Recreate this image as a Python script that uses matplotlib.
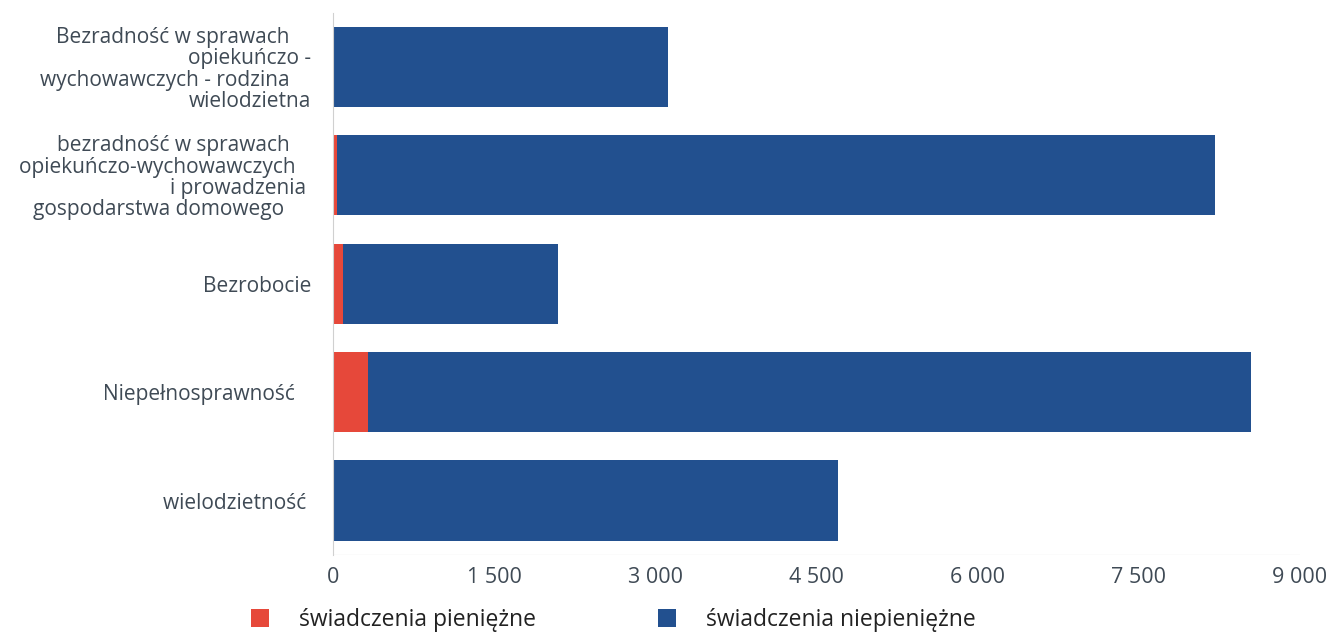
import matplotlib
matplotlib.use("Agg")
import matplotlib.pyplot as plt
import numpy as np

categories = [
    "Bezradność w sprawach    \nopiekuńczo -\nwychowawczych - rodzina    \nwielodzietna",
    "bezradność w sprawach    \nopiekuńczo-wychowawczych   \ni prowadzenia \ngospodarstwa domowego     ",
    "Bezrobocie",
    "Niepełnosprawność   ",
    "wielodzietność ",
]
pieniezne = [0, 40, 90, 330, 0]
niepieniezne = [3120, 8170, 2000, 8220, 4700]
series_names = ["świadczenia pieniężne", "świadczenia niepieniężne"]
xticks = [0, 1500, 3000, 4500, 6000, 7500, 9000]

red = "#e6483a"
blue = "#22508f"
txt = "#3f4a55"

plt.rcParams['font.family'] = ['Open Sans', 'DejaVu Sans']

fig = plt.figure(figsize=(13.4, 6.34), dpi=100)
ax = fig.add_axes([0.2485, 0.125, 0.7215, 0.855])

y = np.arange(len(categories))
ax.barh(y, pieniezne, height=0.74, color=red, label=series_names[0])
ax.barh(y, niepieniezne, left=pieniezne, height=0.74, color=blue, label=series_names[1])

ax.set_ylim(4.5, -0.5)
ax.set_xlim(0, 9000)
ax.set_yticks(y)
ax.set_yticklabels(categories, fontsize=15, color=txt, linespacing=1.02)
ax.set_xticks(xticks)
ax.set_xticklabels([f"{v:,}".replace(",", " ") for v in xticks], fontsize=15.5, color=txt)
ax.tick_params(axis='y', length=0, pad=15.5)
ax.tick_params(axis='x', length=0, pad=9)

for s in ['top', 'right', 'bottom']:
    ax.spines[s].set_visible(False)
ax.spines['left'].set_color("#d0d0d0")
ax.axhline(4.5, color="#eeeeee", lw=1)

fig.legend(loc='upper left', bbox_to_anchor=(0.172, 0.074), ncol=2, frameon=False,
           fontsize=16.5, handlelength=0.8, handleheight=0.8, handletextpad=1.3,
           columnspacing=5.3, labelcolor="#222222")

fig.savefig("out.png", dpi=100)
